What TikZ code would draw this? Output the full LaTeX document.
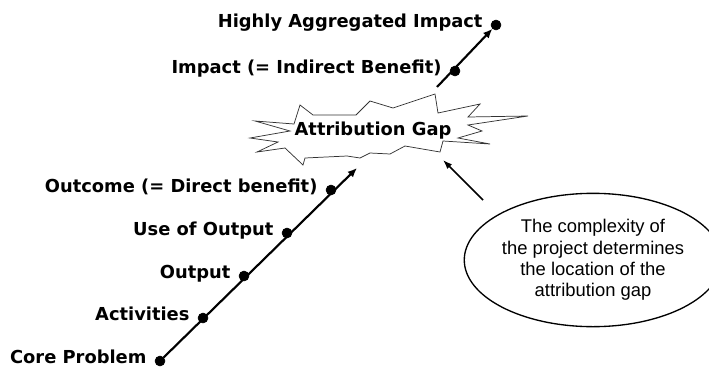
\documentclass[tikz,border=0pt]{standalone}
\usepackage{fontspec}
\setmainfont{DejaVu Sans}
\newfontfamily\notefont{Liberation Sans}
\usepackage{tikz}
\usetikzlibrary{positioning,shapes.geometric,arrows.meta}

\begin{document}
\begin{tikzpicture}[x=0.75pt, y=-0.75pt]
    \tikzstyle{dot} = [circle, draw, fill=black, inner sep=0pt, minimum size=7.5pt]
    \tikzstyle{stage} = [inner sep=0pt, font=\fontsize{13.4}{16}\selectfont\bfseries, text height=10pt, text depth=3pt]
    \tikzstyle{mainline} = [line width=1.6pt, -{Latex[length=7pt, width=6pt]}]
    \tikzstyle{burst} = [draw=black!80, line width=0.55pt, fill=white, line join=miter]
    \tikzstyle{note} = [ellipse, draw, line width=1pt, inner sep=0pt, minimum width=172pt, minimum height=100pt, align=center, font=\notefont\fontsize{13.8}{16}\selectfont]
    \tikzstyle{pointer} = [line width=1.1pt, -{Latex[length=7pt, width=5pt]}]

    \useasboundingbox (0,0) rectangle (709,371);

    % Lower chain of stages
    \foreach \nm/\px/\py/\txt in {core/160/361/Core Problem, act/203/318/Activities,
        outp/244/276/Output, use/287/233/Use of Output, outc/331/190/Outcome (= Direct benefit)} {
        \node[dot] (\nm) at (\px,\py) {};
        \node[stage, left=6pt of \nm, yshift=1.5pt] (\nm-lbl) {\txt};
    }
    \coordinate (gapin) at (357,168);
    \draw[mainline] (core) -- (gapin);

    % Upper chain of stages
    \foreach \nm/\px/\py/\txt in {imp/455/71/Impact (= Indirect Benefit), hai/496/25/Highly Aggregated Impact} {
        \node[dot] (\nm) at (\px,\py) {};
        \node[stage, left=6pt of \nm, yshift=1.5pt] (\nm-lbl) {\txt};
    }
    \coordinate (gapout) at (437,87);
    \draw[mainline] (gapout) -- (hai);

    % The gap
    \draw[burst] (255,121) -- (294,124) -- (300,105) -- (313,115) -- (356,115) -- (370,101)
        -- (393,108) -- (435,94) -- (438,113) -- (480,104) -- (468,117) -- (528,116)
        -- (468,125) -- (482,131) -- (458,138) -- (490,144) -- (443,141) -- (440,152)
        -- (405,146) -- (390,154) -- (370,153) -- (360,158) -- (347,156) -- (305,158)
        -- (303,165) -- (285,148) -- (257,152) -- (278,142) -- (250,138) -- (290,131) -- cycle;
    \node[stage] (gap) at (373,131) {Attribution Gap};

    % Comment on the gap
    \node[note] (note) at (593,260) {The complexity of\\the project determines\\the location of the\\attribution gap};
    \coordinate (notetail) at (483,200);
    \coordinate (gapedge) at (443,160);
    \draw[pointer] (notetail) -- (gapedge);
\end{tikzpicture}
\end{document}
